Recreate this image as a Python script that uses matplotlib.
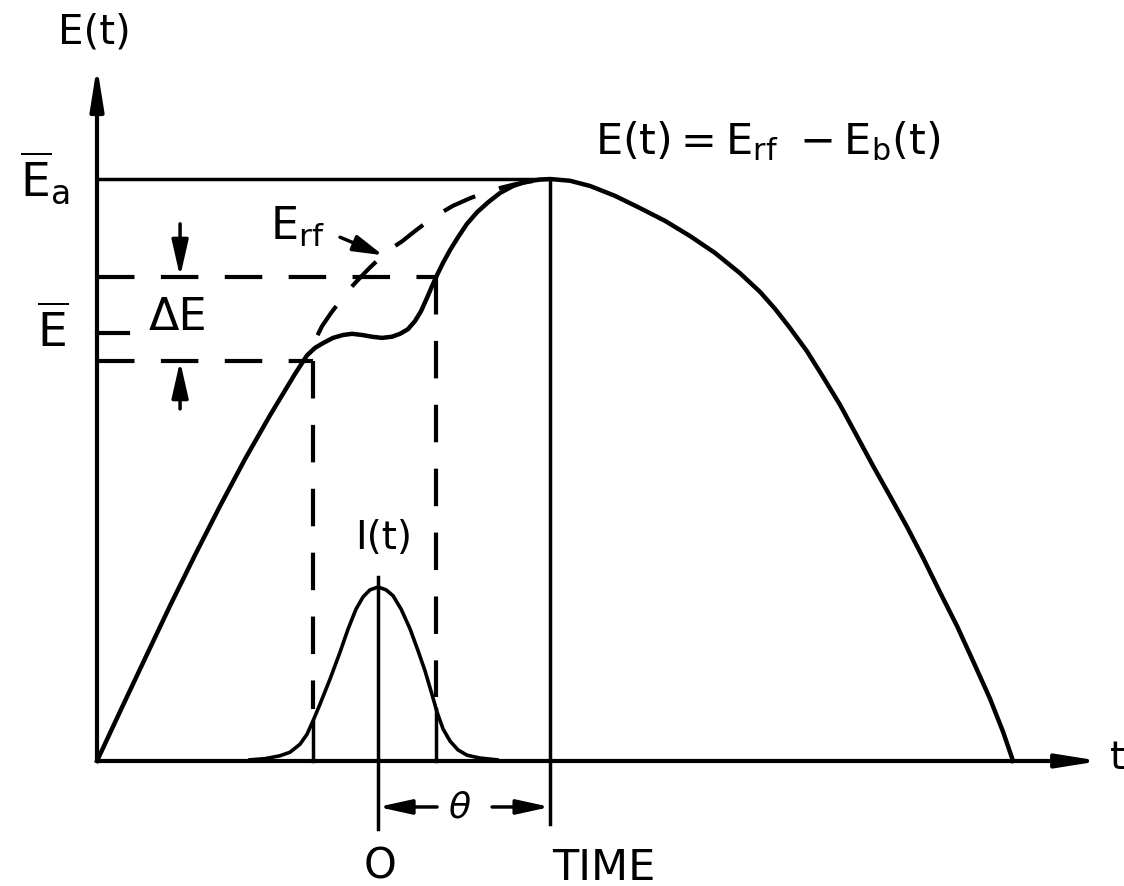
import numpy as np
import matplotlib
matplotlib.use("Agg")
import matplotlib.pyplot as plt

plt.rcParams['mathtext.fontset'] = 'dejavusans'
plt.rcParams['lines.scale_dashes'] = False

# time in units of theta (bunch centre at 0, rf crest at 1), energy in units of E_a
t_field = [-1.634, -1.500, -1.355, -1.209, -1.064, -0.919, -0.773, -0.628, -0.483,
           -0.413, -0.366, -0.320, -0.262, -0.203, -0.151, -0.093, -0.035, 0.023,
           0.081, 0.128, 0.174, 0.215, 0.250, 0.285, 0.314, 0.343, 0.378, 0.419,
           0.465, 0.517, 0.576, 0.640, 0.709, 0.785, 0.866, 0.942, 1.000,
           1.116, 1.233, 1.378, 1.523, 1.669, 1.814, 1.959, 2.105, 2.221, 2.308,
           2.395, 2.494, 2.587, 2.686, 2.785, 2.878, 2.977, 3.076, 3.169, 3.267,
           3.366, 3.459, 3.558, 3.634, 3.692]
E_field = [0.000, 0.085, 0.176, 0.267, 0.354, 0.438, 0.519, 0.594, 0.665,
           0.697, 0.710, 0.718, 0.727, 0.732, 0.734, 0.732, 0.729, 0.727,
           0.729, 0.734, 0.742, 0.756, 0.773, 0.796, 0.816, 0.835, 0.856, 0.878,
           0.900, 0.923, 0.943, 0.960, 0.976, 0.988, 0.996, 0.999, 1.000,
           0.997, 0.988, 0.971, 0.950, 0.928, 0.902, 0.873, 0.838, 0.806, 0.777,
           0.744, 0.704, 0.660, 0.612, 0.558, 0.507, 0.455, 0.402, 0.349, 0.290,
           0.232, 0.172, 0.107, 0.050, 0.000]

# unloaded rf voltage through the bunch
t_rf = [-0.413, -0.366, -0.326, -0.273, -0.221, -0.174, -0.122, -0.047, 0.029, 0.084,
        0.140, 0.221, 0.302, 0.372, 0.436, 0.535, 0.634, 0.715, 0.797, 0.890, 0.988]
E_rf = [0.698, 0.723, 0.747, 0.770, 0.790, 0.808, 0.825, 0.848, 0.869, 0.882,
        0.893, 0.912, 0.930, 0.943, 0.954, 0.967, 0.978, 0.985, 0.991, 0.996, 1.000]

# bunch current profile I(t)
t_bunch = [-0.744, -0.657, -0.570, -0.512, -0.453, -0.413, -0.378, -0.337, -0.279,
           -0.221, -0.174, -0.128, -0.087, -0.047, 0.000, 0.047, 0.087, 0.134,
           0.186, 0.233, 0.273, 0.308, 0.343, 0.378, 0.419, 0.465, 0.517, 0.593, 0.692]
I_bunch = [0.002, 0.004, 0.009, 0.015, 0.029, 0.046, 0.069, 0.098, 0.141,
           0.187, 0.227, 0.261, 0.282, 0.294, 0.299, 0.294, 0.284, 0.261,
           0.227, 0.189, 0.155, 0.120, 0.084, 0.055, 0.034, 0.019, 0.010, 0.005, 0.002]

t_start = -1.634
t_end = 4.198
E_top = 1.194
E_a = 1.0
E_bar = 0.735
E_lo, E_hi = 0.687, 0.832
t_lo, t_hi = -0.378, 0.337
theta = 1.0

fig = plt.figure(figsize=(11.24, 8.87), dpi=100)
ax = fig.add_axes([0, 0, 1, 1])
ax.set_xlim(-2.198, 4.337)
ax.set_ylim(-0.2148, 1.3093)
ax.axis('off')

lw = 3
dash = (0, (27, 19))


def arrow(x0, y0, x1, y1, hl=1.2, hw=0.22, width=lw):
    ax.annotate('', xy=(x1, y1), xytext=(x0, y0),
                arrowprops=dict(arrowstyle=f'-|>,head_length={hl},head_width={hw}',
                                lw=width, color='k', shrinkA=0, shrinkB=0,
                                mutation_scale=20))


# axes
arrow(t_start, 0, t_end, 0, hl=1.25, hw=0.2)
arrow(t_start, 0, t_start, E_top, hl=1.25, hw=0.2)

# reference levels
ax.plot([t_start, theta], [E_a, E_a], color='k', lw=2.5)
ax.plot([t_start, t_start + 0.18], [E_bar, E_bar], color='k', lw=lw)
ax.plot([t_start, t_hi], [E_hi, E_hi], color='k', lw=lw, ls=dash)
ax.plot([t_start, t_lo], [E_lo, E_lo], color='k', lw=lw, ls=dash)

# bunch edges
for te, Ee in [(t_lo, E_lo), (t_hi, E_hi)]:
    Ie = np.interp(te, t_bunch, I_bunch)
    ax.plot([te, te], [Ee, Ie + 0.02], color='k', lw=lw, ls=dash)
    ax.plot([te, te], [0, Ie], color='k', lw=2.5)

# crest and bunch centre
ax.plot([theta, theta], [-0.108, E_a], color='k', lw=2.5)
ax.plot([0, 0], [-0.116, max(I_bunch) + 0.017], color='k', lw=2.5)

# curves
ax.plot(t_field, E_field, color='k', lw=3.2, solid_joinstyle='round')
ax.plot(t_rf, E_rf, color='k', lw=3, ls=(27, (25, 18)))
ax.plot(t_bunch, I_bunch, color='k', lw=2.6, solid_joinstyle='round')

# delta E and theta markers
arrow(-1.151, 0.923, -1.151, E_hi, hl=1.1, hw=0.25, width=2.5)
arrow(-1.151, 0.605, -1.151, E_lo, hl=1.1, hw=0.25, width=2.5)
arrow(0.343, -0.079, 0, -0.079, hl=1.0, hw=0.22, width=2.5)
arrow(0.663, -0.079, theta, -0.079, hl=1.0, hw=0.22, width=2.5)
arrow(-0.221, 0.900, 0.029, 0.869, hl=0.9, hw=0.25, width=2.5)

# labels
kw = dict(color='k', ha='center', va='center')
ax.text(-1.651, 1.254, 'E(t)', fontsize=29, **kw)
ax.text(-1.936, 1.003, r'$\overline{\mathrm{E}}_{\mathrm{a}}$', fontsize=34, **kw)
ax.text(-1.890, 0.737, r'$\overline{\mathrm{E}}$', fontsize=34, **kw)
ax.text(-1.163, 0.763, 'ΔE', fontsize=32, **kw)
ax.text(-0.628, 0.897, r'$\mathrm{E_{rf}}$', fontsize=32, color='k', ha='left', va='baseline')
ax.text(0.035, 0.385, 'I(t)', fontsize=28, **kw)
ax.text(1.262, 1.045, r'$\mathrm{E(t)=E_{rf}\ -E_b(t)}$', fontsize=31, color='k',
        ha='left', va='baseline')
ax.text(0.477, -0.079, r'$\theta$', fontsize=26, **kw)
ax.text(0.012, -0.180, 'O', fontsize=30, **kw)
ax.text(1.314, -0.182, 'TIME', fontsize=31, **kw)
ax.text(4.302, 0.007, 't', fontsize=28, **kw)

fig.savefig('out.png', dpi=100)
